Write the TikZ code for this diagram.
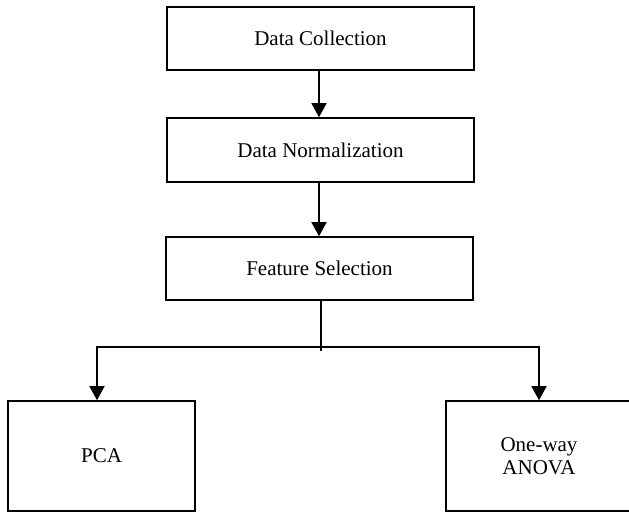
\documentclass[tikz,border=0pt]{standalone}
\usepackage{fontspec}
\setmainfont{Liberation Serif}
\usetikzlibrary{arrows.meta}
\begin{document}
\begin{tikzpicture}[x=1pt,y=-1pt,
  box/.style={draw=black,line width=1.6pt,rectangle,inner sep=0pt,font=\fontsize{21}{23.5}\selectfont,align=center},
  conn/.style={draw=black,line width=1.6pt},
  arr/.style={conn,-{Triangle[length=14pt,width=15pt]}}]
\useasboundingbox (0,0) rectangle (629,512);
\begin{scope}
\clip (0,0) rectangle (629,512);
\node[box,minimum width=307pt,minimum height=63pt] (dc) at (320.5,38.5) {Data Collection};
\node[box,minimum width=307pt,minimum height=64pt] (dn) at (320.5,150) {Data Normalization};
\node[box,minimum width=307pt,minimum height=63pt] (fs) at (319.5,268.5) {Feature Selection};
\node[box,minimum width=187pt,minimum height=110pt] (pca) at (101.5,456) {PCA};
\node[box,minimum width=186pt,minimum height=110pt] (anova) at (539,456) {One-way\\ANOVA};
\coordinate (stemend) at (321,351);
\coordinate (hl) at (97,347);
\coordinate (hr) at (539,347);
\draw[arr] (dc.south -| 319,0) -- (dn.north -| 319,0);
\draw[arr] (dn.south -| 319,0) -- (fs.north -| 319,0);
\draw[conn] (fs.south -| stemend) -- (stemend);
\draw[arr] (hr) -- (hl) -- (pca.north -| hl);
\draw[arr] (hl) -- (hr) -- (anova.north -| hr);
\end{scope}
\end{tikzpicture}
\end{document}
